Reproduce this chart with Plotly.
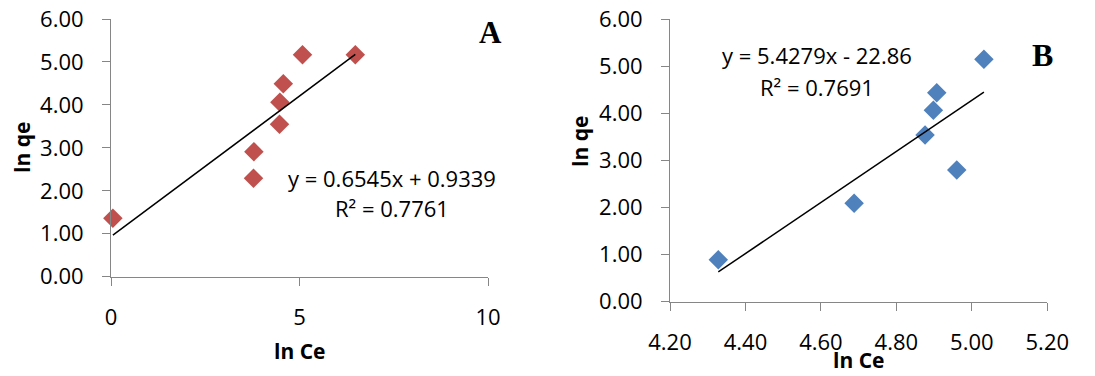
import plotly.graph_objects as go

# Panel A data
a_x = [0.05, 3.78, 3.79, 4.47, 4.48, 4.57, 5.08, 6.48]
a_y = [1.36, 2.29, 2.91, 3.55, 4.06, 4.49, 5.17, 5.17]
a_slope, a_int = 0.6545, 0.9339
a_eq = ["y = 0.6545x + 0.9339", "R² = 0.7761"]

# Panel B data
b_x = [4.328, 4.688, 4.876, 4.898, 4.907, 4.960, 5.032]
b_y = [0.89, 2.09, 3.54, 4.07, 4.44, 2.80, 5.15]
b_slope, b_int = 5.4279, -22.86
b_eq = ["y = 5.4279x - 22.86", "R² = 0.7691"]

a_xticks = [0, 5, 10]
b_xticks = [4.20, 4.40, 4.60, 4.80, 5.00, 5.20]
yticks = [0, 1, 2, 3, 4, 5, 6]

W, H = 1095, 376
FONT = "Open Sans"
AXC = "#868686"

fig = go.Figure()

fig.add_trace(go.Scatter(x=a_x, y=a_y, mode="markers", xaxis="x", yaxis="y",
                         marker=dict(symbol="diamond", size=15, color="#C0504D"),
                         showlegend=False, cliponaxis=False))
ax0, ax1 = min(a_x), max(a_x)
fig.add_trace(go.Scatter(x=[ax0, ax1], y=[a_slope * ax0 + a_int, a_slope * ax1 + a_int],
                         mode="lines", xaxis="x", yaxis="y",
                         line=dict(color="black", width=1.5), showlegend=False))

fig.add_trace(go.Scatter(x=b_x, y=b_y, mode="markers", xaxis="x2", yaxis="y2",
                         marker=dict(symbol="diamond", size=15, color="#4F81BD"),
                         showlegend=False, cliponaxis=False))
bx0, bx1 = min(b_x), max(b_x)
fig.add_trace(go.Scatter(x=[bx0, bx1], y=[b_slope * bx0 + b_int, b_slope * bx1 + b_int],
                         mode="lines", xaxis="x2", yaxis="y2",
                         line=dict(color="black", width=1.5), showlegend=False))

def xp(px):
    return px / W

def yp(py):
    return (H - py) / H

axis_common = dict(showgrid=False, zeroline=False, showline=True, linecolor=AXC, linewidth=1,
                   ticks="outside", tickcolor=AXC, tickwidth=1, ticklen=8, automargin=False,
                   tickfont=dict(family=FONT, size=22, color="black"), fixedrange=True)

fig.update_layout(
    width=W, height=H, margin=dict(l=0, r=0, t=0, b=0, autoexpand=False),
    paper_bgcolor="white", plot_bgcolor="white",
    xaxis=dict(domain=[xp(111), xp(488)], range=[0, 10], tickvals=a_xticks,
               ticktext=[str(v) for v in a_xticks], anchor="y", ticklabelstandoff=13,
               **axis_common),
    yaxis=dict(domain=[yp(276.7), yp(19)], range=[0, 6], tickvals=yticks,
               ticktext=[f"{v:.2f}" for v in yticks], anchor="x", ticklabelstandoff=14,
               **axis_common),
    xaxis2=dict(domain=[xp(670), xp(1047.3)], range=[4.2, 5.2], tickvals=b_xticks,
                ticktext=[f"{v:.2f}" for v in b_xticks], anchor="y2", ticklabelstandoff=13,
                **axis_common),
    yaxis2=dict(domain=[yp(301.7), yp(19.3)], range=[0, 6], tickvals=yticks,
                ticktext=[f"{v:.2f}" for v in yticks], anchor="x2", ticklabelstandoff=14,
                **axis_common),
)

ann = []
def text(x, y, s, size=21, bold=False, family=FONT, angle=0, yanchor="middle"):
    ann.append(dict(x=xp(x), y=yp(y), xref="paper", yref="paper", text=(f"<b>{s}</b>" if bold else s),
                    showarrow=False, xanchor="center", yanchor=yanchor, textangle=angle,
                    font=dict(family=family, size=size, color="black")))

# Panel A labels
text(299, 351, "ln Ce", bold=True)
text(22, 148, "ln qe", bold=True, angle=-90)
text(392, 178, a_eq[0], size=22)
text(392, 208, a_eq[1], size=22)
text(490, 32, "A", size=31, bold=True, family="Liberation Serif")

# Panel B labels
text(858, 376, "ln Ce", bold=True, yanchor="bottom")
text(580, 142, "ln qe", bold=True, angle=-90)
text(817, 55, b_eq[0], size=22)
text(817, 87, b_eq[1], size=22)
text(1042, 55, "B", size=32, bold=True, family="Liberation Serif")

fig.update_layout(annotations=ann)
fig.write_html("out.html")
